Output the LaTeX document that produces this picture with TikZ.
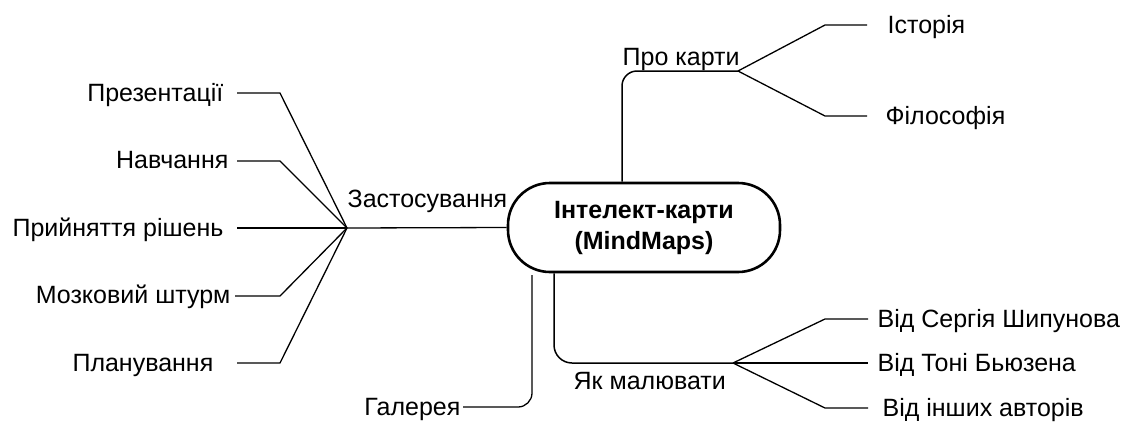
\documentclass[tikz,border=0pt]{standalone}
\usepackage{fontspec}
\setmainfont{Liberation Sans}
\begin{document}
\begin{tikzpicture}[x=1pt,y=-1pt, line width=1.3pt,
  lbl/.style={font=\fontsize{25}{29}\selectfont, inner sep=0pt},
  rootbox/.style={draw, line width=2.6pt, rounded corners=42pt, minimum width=272pt, minimum height=89pt, align=center, font=\bfseries\fontsize{25}{31}\selectfont}]
\useasboundingbox (0,0) rectangle (1128,421);

\node[rootbox] (root) at (644,227.5) {Інтелект-карти\\(MindMaps)};

% Застосування
\coordinate (zh) at (347,228);
\node[lbl, anchor=base west] (zast) at (347,207) {Застосування};
\draw (zh) -- (root.west);

\coordinate (l1) at (237,93);
\coordinate (l2) at (237,161);
\coordinate (l3) at (237,228);
\coordinate (l4) at (235,296);
\coordinate (l5) at (237,363);
\coordinate (c1) at (280,93);
\coordinate (c2) at (280,161);
\coordinate (c4) at (280,296);
\coordinate (c5) at (280,363);
\draw (zh) -- (c1) -- (l1);
\draw (zh) -- (c2) -- (l2);
\draw (zh) -- (l3);
\draw (zh) -- (c4) -- (l4);
\draw (zh) -- (c5) -- (l5);
\node[lbl, anchor=base east] (t1) at (224,101) {Презентації};
\node[lbl, anchor=base east] (t2) at (229,168) {Навчання};
\node[lbl, anchor=base east] (t3) at (224,236) {Прийняття рішень};
\node[lbl, anchor=base east] (t4) at (231,303) {Мозковий штурм};
\node[lbl, anchor=base east] (t5) at (214,371) {Планування};

% Галерея
\coordinate (gs) at (532,275);
\coordinate (ge) at (463,407);
\draw[rounded corners=14pt] (gs) |- (ge);
\node[lbl, anchor=base east] (gal) at (461,415) {Галерея};

% Про карти
\coordinate (pkx) at (622,0);
\coordinate (pk) at (738,71);
\draw[line width=1.5pt, rounded corners=15pt] (root.north -| pkx) |- (pk);
\node[lbl, anchor=base west] (prok) at (622,65) {Про карти};
\coordinate (r1c) at (825,25);
\coordinate (r1) at (867,25);
\coordinate (r2c) at (825,116);
\coordinate (r2) at (867,116);
\draw (pk) -- (r1c) -- (r1);
\draw (pk) -- (r2c) -- (r2);
\node[lbl, anchor=base west] (ist) at (887,33) {Історія};
\node[lbl, anchor=base west] (fil) at (885,124) {Філософія};

% Як малювати
\coordinate (ymx) at (554,0);
\coordinate (ym) at (733,363);
\draw[line width=1.5pt, rounded corners=18pt] (root.south -| ymx) |- (ym);
\node[lbl, anchor=base west] (yak) at (573,389) {Як малювати};
\coordinate (s1c) at (825,319);
\coordinate (s1) at (868,319);
\coordinate (s2) at (868,363);
\coordinate (s3c) at (825,408);
\coordinate (s3) at (868,408);
\draw (ym) -- (s1c) -- (s1);
\draw (ym) -- (s2);
\draw (ym) -- (s3c) -- (s3);
\node[lbl, anchor=base west] (v1) at (877,327) {Від Сергія Шипунова};
\node[lbl, anchor=base west] (v2) at (877,371) {Від Тоні Бьюзена};
\node[lbl, anchor=base west] (v3) at (882,416) {Від інших авторів};
\end{tikzpicture}
\end{document}
